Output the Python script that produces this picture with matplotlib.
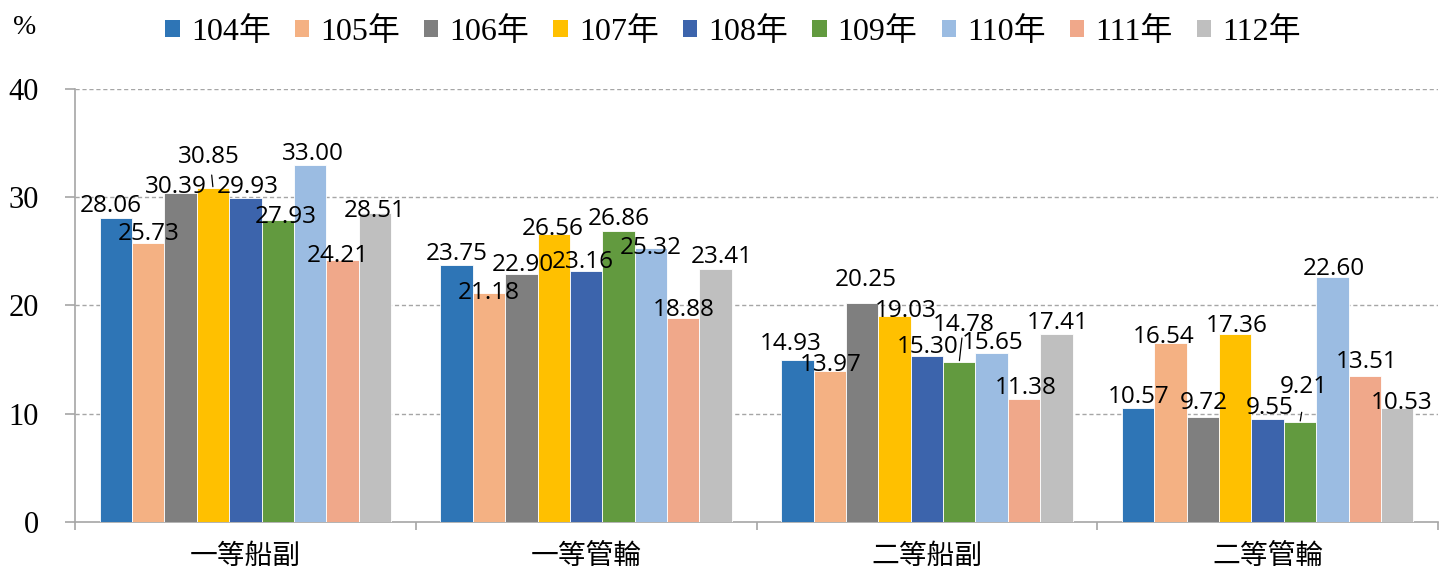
import matplotlib
matplotlib.use("Agg")
import matplotlib.pyplot as plt
from matplotlib.patches import Patch
from matplotlib.ticker import FixedLocator

# ---------------- data ----------------
categories = ["一等船副", "一等管輪", "二等船副", "二等管輪"]
years = ["104年", "105年", "106年", "107年", "108年", "109年", "110年", "111年", "112年"]
y104 = [28.06, 23.75, 14.93, 10.57]
y105 = [25.73, 21.18, 13.97, 16.54]
y106 = [30.39, 22.90, 20.25, 9.72]
y107 = [30.85, 26.56, 19.03, 17.36]
y108 = [29.93, 23.16, 15.30, 9.55]
y109 = [27.93, 26.86, 14.78, 9.21]
y110 = [33.00, 25.32, 15.65, 22.60]
y111 = [24.21, 18.88, 11.38, 13.51]
y112 = [28.51, 23.41, 17.41, 10.53]
series = [y104, y105, y106, y107, y108, y109, y110, y111, y112]
y_ticks = [0, 10, 20, 30, 40]
y_ticklabels = ["0", "10", "20", "30", "40"]

colors = ["#2E75B6", "#F4B183", "#7F7F7F", "#FFC000", "#3C64AC",
          "#629A3F", "#9BBCE2", "#F0A88A", "#BFBFBF"]

# label placement tweaks (pixels): (dx, baseline height above bar top)
label_offsets = {
    (0, 0): (-5, 6.5), (1, 0): (0, 3.5), (2, 0): (-4.5, 0), (3, 0): (-4, 25),
    (4, 0): (2, 5), (5, 0): (8.5, -3.4), (6, 0): (2.5, 4.8), (7, 0): (-4.5, -2),
    (8, 0): (-0.5, -3.6),
    (0, 1): (0, 5), (1, 1): (0, -6.3), (2, 1): (1, 3), (3, 1): (-1, -0.5),
    (4, 1): (-3, 3), (5, 1): (0, 6), (6, 1): (0, -6), (7, 1): (0, 1.6),
    (8, 1): (6, 5.6),
    (0, 2): (-7, 10.4), (1, 2): (1, -0.2), (2, 2): (3.5, 16.8), (3, 2): (11.5, -1),
    (4, 2): (0.5, 3.4), (5, 2): (4, 31), (6, 2): (1, 3.6), (7, 2): (1.5, 4.8),
    (8, 2): (1.5, 4.5),
    (0, 3): (1, 4.6), (1, 3): (-6.5, 0), (2, 3): (1, 7.8), (3, 3): (1, 2),
    (4, 3): (2, 4.6), (5, 3): (4, 29), (6, 3): (1.5, 2.4), (7, 3): (2, 7.8),
    (8, 3): (5, -1),
}
# leader lines: start offset (dx, dy) in pixels relative to bar top centre
leaders = {(3, 0): (-1.3, 13), (5, 2): (2.7, 24), (5, 3): (1.7, 10)}

W, H = 1448, 574
fig = plt.figure(figsize=(W / 100, H / 100), dpi=100)
ax = fig.add_axes([75 / W, 52 / H, 1363 / W, 433 / H])

n = len(series)
width = 0.855 / n
xs = list(range(len(categories)))

for j, (vals, col) in enumerate(zip(series, colors)):
    pos = [x + (j - (n - 1) / 2) * width for x in xs]
    ax.bar(pos, vals, width=width, color=col, edgecolor="white", linewidth=0.6,
           label=years[j], zorder=3)
    for i, (p, v) in enumerate(zip(pos, vals)):
        dx, dy = label_offsets.get((j, i), (0, 4))
        ax.annotate(f"{v:.2f}", xy=(p, v), xytext=(dx, dy),
                    textcoords="offset pixels", ha="center", va="baseline",
                    fontsize=17.5, family="Open Sans", color="black", zorder=5)
        if (j, i) in leaders:
            lx, ly = leaders[(j, i)]
            ax.annotate("", xy=(p, v), xytext=(lx, ly), textcoords="offset pixels",
                        arrowprops=dict(arrowstyle="-", color="black", lw=0.9,
                                        shrinkA=0, shrinkB=1), zorder=5)

ax.set_xlim(-0.5, len(categories) - 0.5)
ax.set_ylim(0, 40)
ax.set_yticks(y_ticks)
ax.set_yticklabels(y_ticklabels, family="Liberation Serif", fontsize=22)
for y in y_ticks[1:]:
    ax.axhline(y, color="#A6A6A6", lw=1.0, ls=(0, (3, 2)), zorder=1)

ax.set_xticks(xs)
ax.set_xticklabels(categories, family=["Noto Sans CJK TC"], fontsize=20)
ax.xaxis.set_minor_locator(FixedLocator([-0.5, 0.5, 1.5, 2.5, 3.5]))
ax.tick_params(axis="x", which="major", length=0, pad=14)
ax.tick_params(axis="x", which="minor", length=6, color="#A6A6A6", width=1.2)
ax.tick_params(axis="y", length=7, color="#A6A6A6", width=1.2, pad=19)

for s in ["top", "right"]:
    ax.spines[s].set_visible(False)
for s in ["left", "bottom"]:
    ax.spines[s].set_color("#A6A6A6")
    ax.spines[s].set_linewidth(1.2)

fig.text(25 / W, 1 - 27 / H, "%", family="Liberation Serif", fontsize=20,
         ha="center", va="center")

handles = [Patch(facecolor=c, edgecolor="none") for c in colors]
fig.legend(handles, years, ncol=9, loc="center",
           bbox_to_anchor=(733 / W, 1 - 32 / H), frameon=False,
           prop={"family": ["Liberation Serif", "Noto Sans CJK TC"], "size": 23},
           handlelength=0.45, handleheight=0.45, handletextpad=0.35,
           columnspacing=0.75, borderpad=0, borderaxespad=0)

fig.savefig("out.png", dpi=100)
